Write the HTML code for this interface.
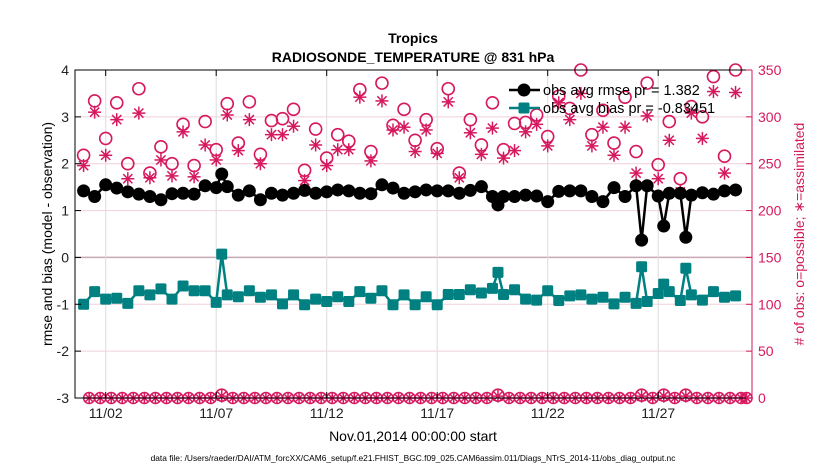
<!DOCTYPE html>
<html><head><meta charset="utf-8"><style>
html,body{margin:0;padding:0;background:#fff;}
svg{display:block;font-family:"Liberation Sans",Arial,sans-serif;}
</style></head><body>
<svg id="chart" width="830" height="470" viewBox="0 0 830 470">
<text x="413" y="43" text-anchor="middle" font-size="14" font-weight="bold">Tropics</text>
<text x="413" y="62" text-anchor="middle" font-size="14" font-weight="bold">RADIOSONDE_TEMPERATURE @ 831 hPa</text>
<g id="grid"></g>
<g id="marks"></g>
<g id="axes"></g>
<text transform="translate(52,234) rotate(-90)" text-anchor="middle" font-size="14">rmse and bias (model - observation)</text>
<text transform="translate(804,234) rotate(-90)" text-anchor="middle" font-size="14" fill="#d6185e"># of obs: o=possible; ∗=assimilated</text>
<text x="413" y="441" text-anchor="middle" font-size="14">Nov.01,2014 00:00:00 start</text>
<text x="413" y="461" text-anchor="middle" font-size="8.4">data file: /Users/raeder/DAI/ATM_forcXX/CAM6_setup/f.e21.FHIST_BGC.f09_025.CAM6assim.011/Diags_NTrS_2014-11/obs_diag_output.nc</text>
<g id="legend"></g>
</svg>
<script>
const times = [0,0.5,1,1.5,2,2.5,3,3.5,4,4.5,5,5.5,6,6.25,6.5,7,7.5,8,8.5,9,9.5,
 10,10.5,11,11.5,12,12.5,13,13.5,14,14.5,15,15.5,16,16.5,17,17.5,18,18.5,
 18.75,19,19.5,
 20,20.5,21,21.5,22,22.5,23,23.5,24,24.5,25,25.25,25.5,26,26.25,26.5,27,27.25,27.5,28,28.5,29,29.5];
const rmse = [1.42,1.30,1.55,1.48,1.40,1.35,1.30,1.23,1.36,1.37,1.35,1.53,1.49,1.78,1.51,1.33,1.42,1.23,1.37,1.33,1.37,
 1.43,1.37,1.40,1.44,1.42,1.37,1.36,1.55,1.48,1.37,1.40,1.44,1.42,1.42,1.37,1.43,1.51,1.30,
 1.12,1.30,1.30,
 1.33,1.31,1.19,1.41,1.42,1.42,1.30,1.19,1.49,1.30,1.53,0.37,1.53,1.31,0.67,1.37,1.37,0.43,1.33,1.38,1.35,1.42,1.44];
const bias = [-1.00,-0.73,-0.89,-0.87,-0.98,-0.71,-0.80,-0.67,-0.89,-0.61,-0.71,-0.71,-0.96,0.07,-0.80,-0.84,-0.71,-0.85,-0.80,-0.99,-0.80,
 -1.01,-0.89,-0.94,-0.84,-0.94,-0.73,-0.87,-0.71,-1.01,-0.80,-1.01,-0.84,-1.01,-0.79,-0.79,-0.69,-0.76,-0.66,
 -0.32,-0.79,-0.69,
 -0.89,-0.91,-0.71,-0.92,-0.82,-0.80,-0.89,-0.85,-0.99,-0.85,-0.98,-0.20,-0.94,-0.77,-0.57,-0.73,-0.92,-0.23,-0.80,-0.91,-0.73,-0.85,-0.82];
const possible = [259,317,277,315,250,330,240,268,250,292,248,295,265,3,314,272,316,260,296,298,308,
 243,287,256,281,274,329,263,336,291,308,275,297,266,330,240,297,270,315,
 3,265,293,
 294,302,279,322,309,350,281,307,272,321,263,3,336,249,3,295,234,3,311,300,343,258,350];
const assimilated = [248,305,259,297,234,304,235,254,237,284,236,270,254,2,302,264,297,250,281,281,290,
 232,270,248,265,265,321,253,317,286,289,263,286,261,316,235,283,260,288,
 2,256,264,
 284,292,269,315,297,325,269,289,259,289,240,2,301,234,2,275,220,2,304,277,327,240,326];
const leftTicks = [-3,-2,-1,0,1,2,3,4];
const rightTicks = [0,50,100,150,200,250,300,350];
const xTickDays = [1,6,11,16,21,26];
const xTickLabels = ["11/02","11/07","11/12","11/17","11/22","11/27"];
const legendLabels = ["obs avg rmse pr = 1.382","obs avg bias pr = -0.83451"];

const NS="http://www.w3.org/2000/svg";
const X0=75,X1=752,Y0=70,Y1=398;
const xS=d=>83.6+22.1*d;
const yL=v=>Y1-(v+3)*(Y1-Y0)/7;
const yR=c=>Y1-c*(Y1-Y0)/350;
const RED="#d6185e",TEAL="#008080";
function mk(tag,attrs,parent){const e=document.createElementNS(NS,tag);for(const k in attrs)e.setAttribute(k,attrs[k]);parent.appendChild(e);return e;}
const grid=document.getElementById('grid'),marks=document.getElementById('marks'),axes=document.getElementById('axes'),legend=document.getElementById('legend');

leftTicks.forEach(v=>{const l=mk('line',{x1:X0,x2:X1,y1:yL(v),y2:yL(v),stroke:v===0?'#c8a8b4':'#f2cfdc','stroke-width':v===0?1.5:1},grid);

});
xTickDays.forEach(d=>{const l=mk('line',{x1:xS(d),x2:xS(d),y1:Y0,y2:Y1,stroke:'#dcdcdc','stroke-width':1},grid);

});

function star(cx,cy,r,parent,name){const g=mk('g',{stroke:RED,'stroke-width':1.5},parent);


for(let a=0;a<4;a++){const t=a*Math.PI/4;mk('line',{x1:cx-r*Math.cos(t),y1:cy-r*Math.sin(t),x2:cx+r*Math.cos(t),y2:cy+r*Math.sin(t)},g);}}

for(let k=0;k<=120;k++){const d=k*0.25;if(times.indexOf(d)>=0)continue;
const c=mk('circle',{cx:xS(d),cy:yR(0),r:5.5,fill:'none',stroke:RED,'stroke-width':1.5},marks);


star(xS(d),yR(0),5.5,marks,'assimilated-zero-marker');}

times.forEach((d,i)=>{const c=mk('circle',{cx:xS(d),cy:yR(possible[i]),r:6,fill:'none',stroke:RED,'stroke-width':1.6},marks);


star(xS(d),yR(assimilated[i]),6.5,marks,'assimilated-count-point');});

const rp=mk('polyline',{points:times.map((d,i)=>xS(d)+','+yL(rmse[i])).join(' '),fill:'none',stroke:'#000','stroke-width':2.5},marks);


times.forEach((d,i)=>{const c=mk('circle',{cx:xS(d),cy:yL(rmse[i]),r:6.5,fill:'#000'},marks);

});
const bp=mk('polyline',{points:times.map((d,i)=>xS(d)+','+yL(bias[i])).join(' '),fill:'none',stroke:TEAL,'stroke-width':2.5},marks);


times.forEach((d,i)=>{const s=mk('rect',{x:xS(d)-5.5,y:yL(bias[i])-5.5,width:11,height:11,rx:1.5,fill:TEAL},marks);

});

const al=mk('path',{d:`M${X1},${Y0}H${X0}V${Y1}H${X1}`,fill:'none',stroke:'#000','stroke-width':1},axes);


const ar=mk('line',{x1:X1,x2:X1,y1:Y0,y2:Y1,stroke:RED,'stroke-width':1},axes);


leftTicks.forEach(v=>{mk('line',{x1:X0,x2:X0+6,y1:yL(v),y2:yL(v),stroke:'#000'},axes);
const t=mk('text',{x:X0-6,y:yL(v)+5,'text-anchor':'end','font-size':14,fill:'#222'},axes);t.textContent=v;

});
rightTicks.forEach(v=>{mk('line',{x1:X1-6,x2:X1,y1:yR(v),y2:yR(v),stroke:RED},axes);
const t=mk('text',{x:X1+6,y:yR(v)+5,'font-size':14,fill:RED},axes);t.textContent=v;

});
xTickDays.forEach((d,i)=>{mk('line',{x1:xS(d),x2:xS(d),y1:Y0,y2:Y0+6,stroke:'#000'},axes);mk('line',{x1:xS(d),x2:xS(d),y1:Y1-6,y2:Y1,stroke:'#000'},axes);
const t=mk('text',{x:xS(d),y:418,'text-anchor':'middle','font-size':14,fill:'#222'},axes);t.textContent=xTickLabels[i];

});

[[90,'#000','circle'],[108,TEAL,'rect']].forEach((r,i)=>{const y=r[0];
mk('line',{x1:509,x2:540,y1:y,y2:y,stroke:r[1],'stroke-width':2.5},legend);
if(r[2]==='circle')mk('circle',{cx:524,cy:y,r:6.5,fill:r[1]},legend);else mk('rect',{x:518.5,y:y-5.5,width:11,height:11,rx:1.5,fill:r[1]},legend);
const t=mk('text',{x:543,y:y+5,'font-size':14.5,fill:'#000'},legend);t.textContent=legendLabels[i];

});
</script>
</body></html>
